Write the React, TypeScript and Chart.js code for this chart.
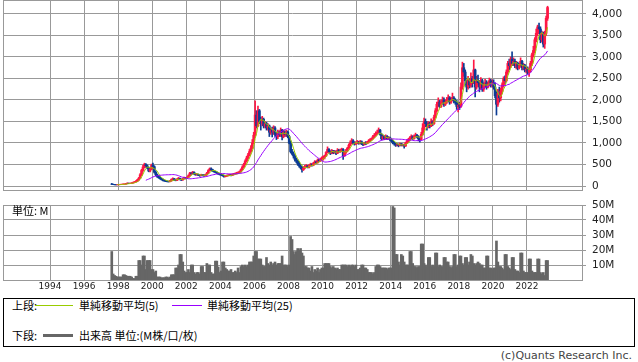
import React, { useEffect, useRef } from "react";
import { Chart, registerables } from "chart.js";

Chart.register(...registerables);

// Monthly candles, first month = Aug 1997
const START_YEAR = 1997;
const START_MONTH = 8;

const opens = [
  45, 40, 35, 30, 28,
  32, 35, 38, 40, 42, 45, 55, 65, 60, 62, 70, 85,
  95, 110, 140, 180, 260, 360, 440, 500, 470, 420, 350, 400,
  480, 450, 320, 260, 220, 200, 170, 150, 130, 120, 110, 105,
  100, 120, 150, 170, 140, 130, 160, 180, 150, 140, 170, 190,
  180, 200, 240, 300, 290, 320, 280, 260, 270, 250, 240, 260,
  250, 240, 260, 300, 360, 400, 380, 350, 330, 320, 300, 280,
  270, 260, 240, 220, 230, 240, 250, 260, 250, 270, 280, 290,
  300, 310, 330, 380, 440, 500, 580, 650, 720, 800, 880, 1000,
  1180, 1650, 1400, 1750, 1500, 1450, 1550, 1400, 1450, 1350, 1400, 1250,
  1300, 1250, 1350, 1200, 1150, 1250, 1200, 1300, 1150, 1250, 1200, 1250,
  1150, 1000, 800, 750, 700, 620, 580, 520, 470, 430, 380, 420,
  450, 470, 440, 480, 500, 480, 520, 560, 540, 600, 580, 620,
  650, 680, 700, 780, 850, 800, 760, 820, 780, 800, 760, 830,
  800, 820, 850, 700, 780, 820, 880, 950, 1000, 1050, 1000, 980,
  1000, 1020, 1000, 1030, 980, 970, 1000, 990, 1020, 1050, 1080, 1100,
  1150, 1180, 1220, 1250, 1300, 1200, 1100, 1150, 1100, 1150, 1100, 1120,
  1080, 1050, 1000, 980, 950, 960, 940, 980, 950, 960, 930, 1000,
  1050, 1080, 1120, 1150, 1100, 1160, 1180, 1150, 1100, 1080, 1200, 1350,
  1500, 1450, 1380, 1450, 1400, 1500, 1450, 1600, 1750, 1900, 1950, 1850,
  1950, 2000, 1900, 1950, 2000, 2050, 1950, 2000, 2050, 1980, 1950, 1850,
  1880, 1850, 2300, 2750, 2650, 2450, 2300, 2450, 2350, 2500, 2400, 2700,
  2300, 2450, 2400, 2300, 2450, 2250, 2350, 2400, 2300, 2380, 2450, 2350,
  2400, 2300, 2100, 1900, 2150, 2050, 2200, 2350, 2500, 2450, 2650, 2850,
  2800, 2950, 2850, 2900, 2800, 2850, 2750, 2800, 2900, 2750, 2800, 2700,
  2720, 2650, 2700, 2850, 3050, 3150, 3400, 3550, 3700, 3650, 3400, 3550,
  3300, 3550, 3900,
];

const highs = [
  60, 45, 38, 33, 35,
  40, 42, 45, 48, 50, 62, 75, 68, 70, 78, 92, 105,
  125, 155, 200, 290, 390, 480, 530, 520, 490, 440, 430, 510,
  535, 470, 340, 280, 240, 210, 180, 160, 140, 130, 120, 115,
  130, 165, 190, 175, 150, 170, 200, 185, 160, 180, 210, 200,
  215, 260, 320, 320, 340, 330, 290, 290, 280, 260, 275, 270,
  265, 275, 320, 380, 420, 420, 390, 360, 345, 330, 310, 295,
  285, 270, 250, 245, 255, 265, 275, 270, 285, 295, 305, 320,
  330, 350, 400, 470, 530, 610, 690, 760, 850, 940, 1080, 1250,
  1980, 1750, 1860, 1780, 1600, 1620, 1580, 1500, 1480, 1450, 1420, 1350,
  1370, 1400, 1380, 1250, 1300, 1280, 1350, 1320, 1300, 1280, 1300, 1280,
  1180, 1050, 850, 790, 720, 650, 600, 560, 500, 460, 450, 480,
  500, 480, 500, 530, 520, 550, 590, 580, 630, 620, 650, 680,
  700, 720, 800, 910, 870, 820, 850, 830, 830, 820, 870, 850,
  860, 880, 870, 800, 850, 900, 980, 1050, 1100, 1080, 1030, 1030,
  1060, 1040, 1060, 1050, 1000, 1020, 1030, 1040, 1080, 1100, 1120, 1180,
  1220, 1260, 1300, 1350, 1320, 1220, 1180, 1170, 1190, 1170, 1150, 1140,
  1100, 1070, 1030, 1000, 990, 980, 1000, 990, 980, 970, 1020, 1080,
  1110, 1150, 1190, 1170, 1190, 1230, 1200, 1170, 1120, 1250, 1450, 1580,
  1560, 1500, 1500, 1480, 1560, 1520, 1650, 1800, 1950, 2050, 1990, 2000,
  2070, 2050, 2000, 2060, 2120, 2080, 2060, 2160, 2080, 2030, 1990, 1930,
  1950, 2400, 2880, 2850, 2700, 2500, 2550, 2500, 2630, 2550, 2930, 2720,
  2550, 2580, 2450, 2520, 2480, 2400, 2480, 2450, 2420, 2510, 2480, 2470,
  2470, 2400, 2200, 2250, 2300, 2280, 2400, 2540, 2560, 2700, 2900, 2950,
  3000, 3120, 2980, 2950, 2900, 2880, 2850, 2980, 2920, 2850, 2830, 2770,
  2770, 2750, 2900, 3090, 3250, 3450, 3650, 3740, 3790, 3700, 3600, 3580,
  3600, 3950, 4180,
];

const lows = [
  35, 30, 25, 25, 26,
  28, 32, 35, 37, 40, 43, 52, 55, 55, 60, 66, 80,
  90, 100, 130, 170, 240, 340, 420, 440, 400, 330, 330, 380,
  400, 300, 240, 200, 180, 160, 140, 120, 110, 100, 95, 90,
  95, 110, 140, 130, 120, 125, 150, 140, 125, 135, 160, 165,
  170, 190, 230, 270, 280, 270, 250, 250, 240, 225, 235, 235,
  225, 230, 250, 290, 350, 360, 340, 320, 305, 290, 270, 255,
  245, 230, 205, 210, 220, 235, 240, 235, 245, 260, 270, 280,
  290, 300, 320, 370, 430, 490, 560, 630, 700, 780, 860, 980,
  1150, 1350, 1380, 1450, 1300, 1400, 1350, 1350, 1300, 1300, 1150, 1200,
  1140, 1200, 1150, 1080, 1100, 1150, 1150, 1070, 1120, 1150, 1150, 1120,
  980, 770, 720, 650, 580, 540, 480, 440, 400, 320, 360, 400,
  430, 420, 420, 460, 460, 470, 510, 520, 530, 560, 570, 600,
  600, 630, 690, 770, 780, 730, 750, 750, 760, 730, 750, 780,
  780, 800, 620, 690, 760, 800, 870, 930, 980, 980, 950, 960,
  980, 970, 980, 960, 940, 950, 960, 980, 1000, 1030, 1060, 1090,
  1120, 1160, 1200, 1240, 1180, 1070, 1080, 1080, 1080, 1080, 1080, 1050,
  1020, 980, 950, 920, 930, 910, 930, 930, 930, 880, 920, 990,
  1030, 1060, 1100, 1080, 1090, 1140, 1120, 1050, 1020, 1070, 1180, 1300,
  1380, 1300, 1350, 1350, 1380, 1400, 1430, 1580, 1720, 1850, 1820, 1830,
  1900, 1850, 1870, 1920, 1960, 1900, 1920, 1980, 1930, 1900, 1780, 1720,
  1780, 1830, 2250, 2550, 2350, 2190, 2250, 2280, 2300, 2300, 2380, 2070,
  2250, 2350, 2190, 2250, 2200, 2200, 2300, 2250, 2280, 2330, 2300, 2300,
  2250, 2050, 1650, 1850, 1950, 1980, 2150, 2300, 2380, 2420, 2600, 2700,
  2750, 2800, 2800, 2750, 2720, 2700, 2720, 2780, 2700, 2700, 2650, 2630,
  2600, 2550, 2650, 2800, 3000, 3100, 3350, 3500, 3550, 3330, 3350, 3230,
  3200, 3500, 3850,
];

const closes = [
  40, 35, 30, 28, 32,
  35, 38, 40, 42, 45, 55, 65, 60, 62, 70, 85, 95,
  110, 140, 180, 260, 360, 440, 500, 470, 420, 350, 400, 480,
  450, 320, 260, 220, 200, 170, 150, 130, 120, 110, 105, 100,
  120, 150, 170, 140, 130, 160, 180, 150, 140, 170, 190, 180,
  200, 240, 300, 290, 320, 280, 260, 270, 250, 240, 260, 250,
  240, 260, 300, 360, 400, 380, 350, 330, 320, 300, 280, 270,
  260, 240, 220, 230, 240, 250, 260, 250, 270, 280, 290, 300,
  310, 330, 380, 440, 500, 580, 650, 720, 800, 880, 1000, 1180,
  1650, 1400, 1750, 1500, 1450, 1550, 1400, 1450, 1350, 1400, 1250, 1300,
  1250, 1350, 1200, 1150, 1250, 1200, 1300, 1150, 1250, 1200, 1250, 1150,
  1000, 800, 750, 700, 620, 580, 520, 470, 430, 380, 420, 450,
  470, 440, 480, 500, 480, 520, 560, 540, 600, 580, 620, 650,
  680, 700, 780, 850, 800, 760, 820, 780, 800, 760, 830, 800,
  820, 850, 700, 780, 820, 880, 950, 1000, 1050, 1000, 980, 1000,
  1020, 1000, 1030, 980, 970, 1000, 990, 1020, 1050, 1080, 1100, 1150,
  1180, 1220, 1250, 1300, 1200, 1100, 1150, 1100, 1150, 1100, 1120, 1080,
  1050, 1000, 980, 950, 960, 940, 980, 950, 960, 930, 1000, 1050,
  1080, 1120, 1150, 1100, 1160, 1180, 1150, 1100, 1080, 1200, 1350, 1500,
  1450, 1380, 1450, 1400, 1500, 1450, 1600, 1750, 1900, 1950, 1850, 1950,
  2000, 1900, 1950, 2000, 2050, 1950, 2000, 2050, 1980, 1950, 1850, 1880,
  1850, 2300, 2750, 2650, 2450, 2300, 2450, 2350, 2500, 2400, 2700, 2300,
  2450, 2400, 2300, 2450, 2250, 2350, 2400, 2300, 2380, 2450, 2350, 2400,
  2300, 2100, 1900, 2150, 2050, 2200, 2350, 2500, 2450, 2650, 2850, 2800,
  2950, 2850, 2900, 2800, 2850, 2750, 2800, 2900, 2750, 2800, 2700, 2720,
  2650, 2700, 2850, 3050, 3150, 3400, 3550, 3700, 3650, 3400, 3550, 3300,
  3550, 3900, 4150,
];

// Volume in millions of shares
const volumes = [
  19, 4, 3, 2.5, 2,
  2, 2, 2, 3.5, 3.5, 3, 2.5, 2.5, 2.5, 2, 1, 1,
  2.5, 2.5, 13, 13, 10, 16, 16, 7, 13, 13, 13, 7,
  7, 5, 6, 2, 2, 2, 1.5, 1.5, 1.5, 2, 2, 1.5,
  2, 3.5, 3.5, 3.5, 8, 8, 10, 17, 17, 12, 6, 5,
  5, 7, 5, 10, 10, 5, 4, 5, 5, 4, 9, 9,
  5, 5, 11, 10, 10, 5, 4, 4, 12.6, 12.6, 8.7, 5,
  6, 12, 12, 8, 7, 6, 6, 7, 5, 5, 6, 5,
  8, 5, 9, 10, 9, 10, 9, 10, 12, 12, 12, 16,
  19, 19, 14, 14, 14, 10, 9, 9, 15, 11, 10, 12,
  10, 11, 12, 10, 11, 11, 11, 16, 10, 10, 10, 9,
  10, 29, 27, 19, 17, 19, 21, 20, 21, 18, 16, 9,
  9, 8, 8, 6, 9, 5, 7, 6, 8, 5, 7, 8,
  8, 11, 11, 11, 11, 9, 8, 9, 8, 7, 8, 7,
  7, 10, 10, 10, 10, 9, 10, 9, 10, 10, 9, 10,
  7, 7, 8, 10, 10, 8, 8, 7, 5, 5, 5, 4,
  5, 9, 10, 10, 9, 8, 8, 8, 8, 7, 8, 8,
  8, 49, 48, 17, 17, 12, 10, 17, 16, 12, 10, 10,
  10, 19, 19, 11, 9, 9, 8, 9, 9, 24, 24, 11,
  10, 9, 15, 15, 9, 10, 9, 18, 18, 9, 10, 9,
  9, 15, 15, 12, 12, 9, 8, 9, 17, 17, 9, 10,
  16, 16, 11, 10, 15, 15, 10, 12, 17, 16, 11, 10,
  11, 12, 11, 10, 10, 8, 8, 16, 16, 8, 8, 7,
  8, 8, 26, 12, 9, 9, 8, 7, 17, 17, 9, 8,
  7, 15, 15, 7, 6, 6, 5, 18, 18, 6, 5, 5,
  5, 14, 14, 6, 5, 5, 5, 14, 14, 5, 4, 5,
  3, 13, 13,
];

const yearTicks = [1994, 1996, 1998, 2000, 2002, 2004, 2006, 2008, 2010, 2012, 2014, 2016, 2018, 2020, 2022];
const priceTicks = [0, 500, 1000, 1500, 2000, 2500, 3000, 3500, 4000];
const volumeTicks = [10, 20, 30, 40, 50];

const X_MIN = 1991.24;
const X_MAX = 2025.23;

const UP = "#ff1744";
const DOWN = "#0c3c94";
const MA5_COLOR = "#99cc00";
const MA25_COLOR = "#9900ff";
const VOL_COLOR = "#666666";
const GRID = "#999999";
const TICK_TEXT = "#222222";

const monthX = (i: number) => START_YEAR + (START_MONTH - 1 + i + 0.5) / 12;

function sma(values: number[], n: number): (number | null)[] {
  return values.map((_, i) => {
    if (i < n - 1) return null;
    let s = 0;
    for (let k = i - n + 1; k <= i; k++) s += values[k];
    return s / n;
  });
}

const framePlugin = {
  id: "frame",
  afterDraw(chart: any) {
    const { ctx, chartArea } = chart;
    ctx.save();
    ctx.strokeStyle = GRID;
    ctx.lineWidth = 1;
    const l = Math.round(chartArea.left) + 0.5;
    const t = Math.round(chartArea.top) + 0.5;
    const r = Math.round(chartArea.right) + 0.5;
    const b = Math.round(chartArea.bottom) + 0.5;
    ctx.strokeRect(l, t, r - l, b - t);
    ctx.restore();
  },
};

function zeroPad(s: any) {
  s.paddingTop = 0;
  s.paddingBottom = 0;
  s.paddingLeft = 0;
  s.paddingRight = 0;
}

function xScale(showLabels: boolean, height: number) {
  return {
    type: "linear",
    position: "bottom",
    min: X_MIN,
    max: X_MAX,
    offset: false,
    afterBuildTicks: (s: any) => {
      s.ticks = yearTicks.map((v) => ({ value: v }));
    },
    afterFit: (s: any) => {
      s.height = height;
      zeroPad(s);
    },
    grid: { color: GRID, lineWidth: 1, drawTicks: false, offset: false },
    border: { display: false },
    ticks: showLabels
      ? {
          display: true,
          autoSkip: false,
          maxRotation: 0,
          padding: 1,
          color: TICK_TEXT,
          font: { size: 9, family: "'DejaVu Sans', sans-serif" },
          callback: (v: any) => String(v),
        }
      : { display: false },
  };
}

function yScale(min: number, max: number, ticks: number[], fmt: (v: number) => string) {
  return {
    type: "linear",
    position: "right",
    min,
    max,
    afterBuildTicks: (s: any) => {
      s.ticks = ticks.map((v) => ({ value: v }));
    },
    afterFit: (s: any) => {
      s.width = 56;
      zeroPad(s);
    },
    grid: { color: GRID, lineWidth: 1, drawTicks: true, tickLength: 4, tickColor: GRID },
    border: { display: false },
    ticks: {
      padding: 6,
      color: TICK_TEXT,
      font: { size: 10.5, family: "'DejaVu Sans', sans-serif" },
      callback: (v: any) => fmt(Number(v)),
    },
  };
}

function PriceChart() {
  const ref = useRef<HTMLCanvasElement | null>(null);
  useEffect(() => {
    if (!ref.current) return;
    const xs = closes.map((_, i) => monthX(i));
    const colors = closes.map((c, i) => (c >= opens[i] ? UP : DOWN));
    const ma5 = sma(closes, 5);
    const ma25 = sma(closes, 25);
    const chart = new Chart(ref.current, {
      type: "bar",
      data: {
        datasets: [
          {
            type: "line",
            label: "MA25",
            data: xs.map((x, i) => ({ x, y: ma25[i] })),
            borderColor: MA25_COLOR,
            borderWidth: 1,
            pointRadius: 0,
            order: 0,
          },
          {
            type: "line",
            label: "MA5",
            data: xs.map((x, i) => ({ x, y: ma5[i] })),
            borderColor: MA5_COLOR,
            borderWidth: 1,
            pointRadius: 0,
            order: 1,
          },
          {
            type: "bar",
            label: "body",
            data: xs.map((x, i) => ({ x, y: [opens[i], closes[i]] })),
            backgroundColor: colors,
            barThickness: 2,
            grouped: false,
            order: 2,
          },
          {
            type: "bar",
            label: "wick",
            data: xs.map((x, i) => ({ x, y: [lows[i], highs[i]] })),
            backgroundColor: colors,
            barThickness: 1,
            grouped: false,
            order: 3,
          },
        ],
      } as any,
      options: {
        responsive: false,
        animation: false,
        devicePixelRatio: 1,
        layout: { padding: { left: 3, right: 0, top: 0, bottom: 2 } },
        plugins: { legend: { display: false }, tooltip: { enabled: false } },
        scales: {
          x: xScale(false, 0),
          y: yScale(-93, 4325, priceTicks, (v) => v.toLocaleString("en-US")),
        } as any,
      },
      plugins: [framePlugin],
    } as any);
    return () => chart.destroy();
  }, []);
  return (
    <canvas
      ref={ref}
      width={638}
      height={192}
      style={{ position: "absolute", left: 0, top: 0, width: 638, height: 192 }}
    />
  );
}

function VolumeChart() {
  const ref = useRef<HTMLCanvasElement | null>(null);
  useEffect(() => {
    if (!ref.current) return;
    const xs = volumes.map((_, i) => monthX(i));
    const chart = new Chart(ref.current, {
      type: "bar",
      data: {
        datasets: [
          {
            label: "volume",
            data: xs.map((x, i) => ({ x, y: volumes[i] })),
            backgroundColor: VOL_COLOR,
            barThickness: 2,
            grouped: false,
          },
        ],
      } as any,
      options: {
        responsive: false,
        animation: false,
        devicePixelRatio: 1,
        layout: { padding: { left: 3, right: 0, top: 10, bottom: 0 } },
        plugins: { legend: { display: false }, tooltip: { enabled: false } },
        scales: {
          x: xScale(true, 15),
          y: yScale(0, 50, volumeTicks, (v) => `${v}M`),
        } as any,
      },
      plugins: [framePlugin],
    } as any);
    return () => chart.destroy();
  }, []);
  return (
    <canvas
      ref={ref}
      width={638}
      height={100}
      style={{ position: "absolute", left: 0, top: 195, width: 638, height: 100 }}
    />
  );
}

const jp: React.CSSProperties = {
  position: "absolute",
  fontFamily: "'Noto Sans CJK JP', sans-serif",
  fontSize: 11,
  lineHeight: "14px",
  color: "#000",
  whiteSpace: "nowrap",
};

export default function App() {
  return (
    <div
      style={{
        position: "absolute",
        left: 0,
        top: 0,
        width: 638,
        height: 362,
        overflow: "hidden",
        background: "#fff",
      }}
    >
      <PriceChart />
      <VolumeChart />
      <div style={{ ...jp, left: 12, top: 203 }}>単位: M</div>
      <div
        style={{
          position: "absolute",
          left: 3,
          top: 298,
          width: 632,
          height: 49,
          boxSizing: "border-box",
          border: "1px solid #000",
        }}
      />
      <div style={{ ...jp, left: 12, top: 298 }}>上段:</div>
      <div style={{ position: "absolute", left: 35, top: 305, width: 38, height: 1, background: MA5_COLOR }} />
      <div style={{ ...jp, left: 79, top: 298 }}>単純移動平均(5)</div>
      <div style={{ position: "absolute", left: 172, top: 305, width: 30, height: 1, background: MA25_COLOR }} />
      <div style={{ ...jp, left: 207, top: 298 }}>単純移動平均(25)</div>
      <div style={{ ...jp, left: 12, top: 328 }}>下段:</div>
      <div style={{ position: "absolute", left: 43, top: 334, width: 30, height: 3, background: VOL_COLOR }} />
      <div style={{ ...jp, left: 79, top: 328 }}>出来高 単位:(M株/口/枚)</div>
      <div
        style={{
          position: "absolute",
          right: 6,
          top: 349,
          fontFamily: "'DejaVu Sans', sans-serif",
          fontSize: 11,
          lineHeight: "14px",
          color: "#444",
          whiteSpace: "nowrap",
        }}
      >
        (c)Quants Research Inc.
      </div>
    </div>
  );
}
